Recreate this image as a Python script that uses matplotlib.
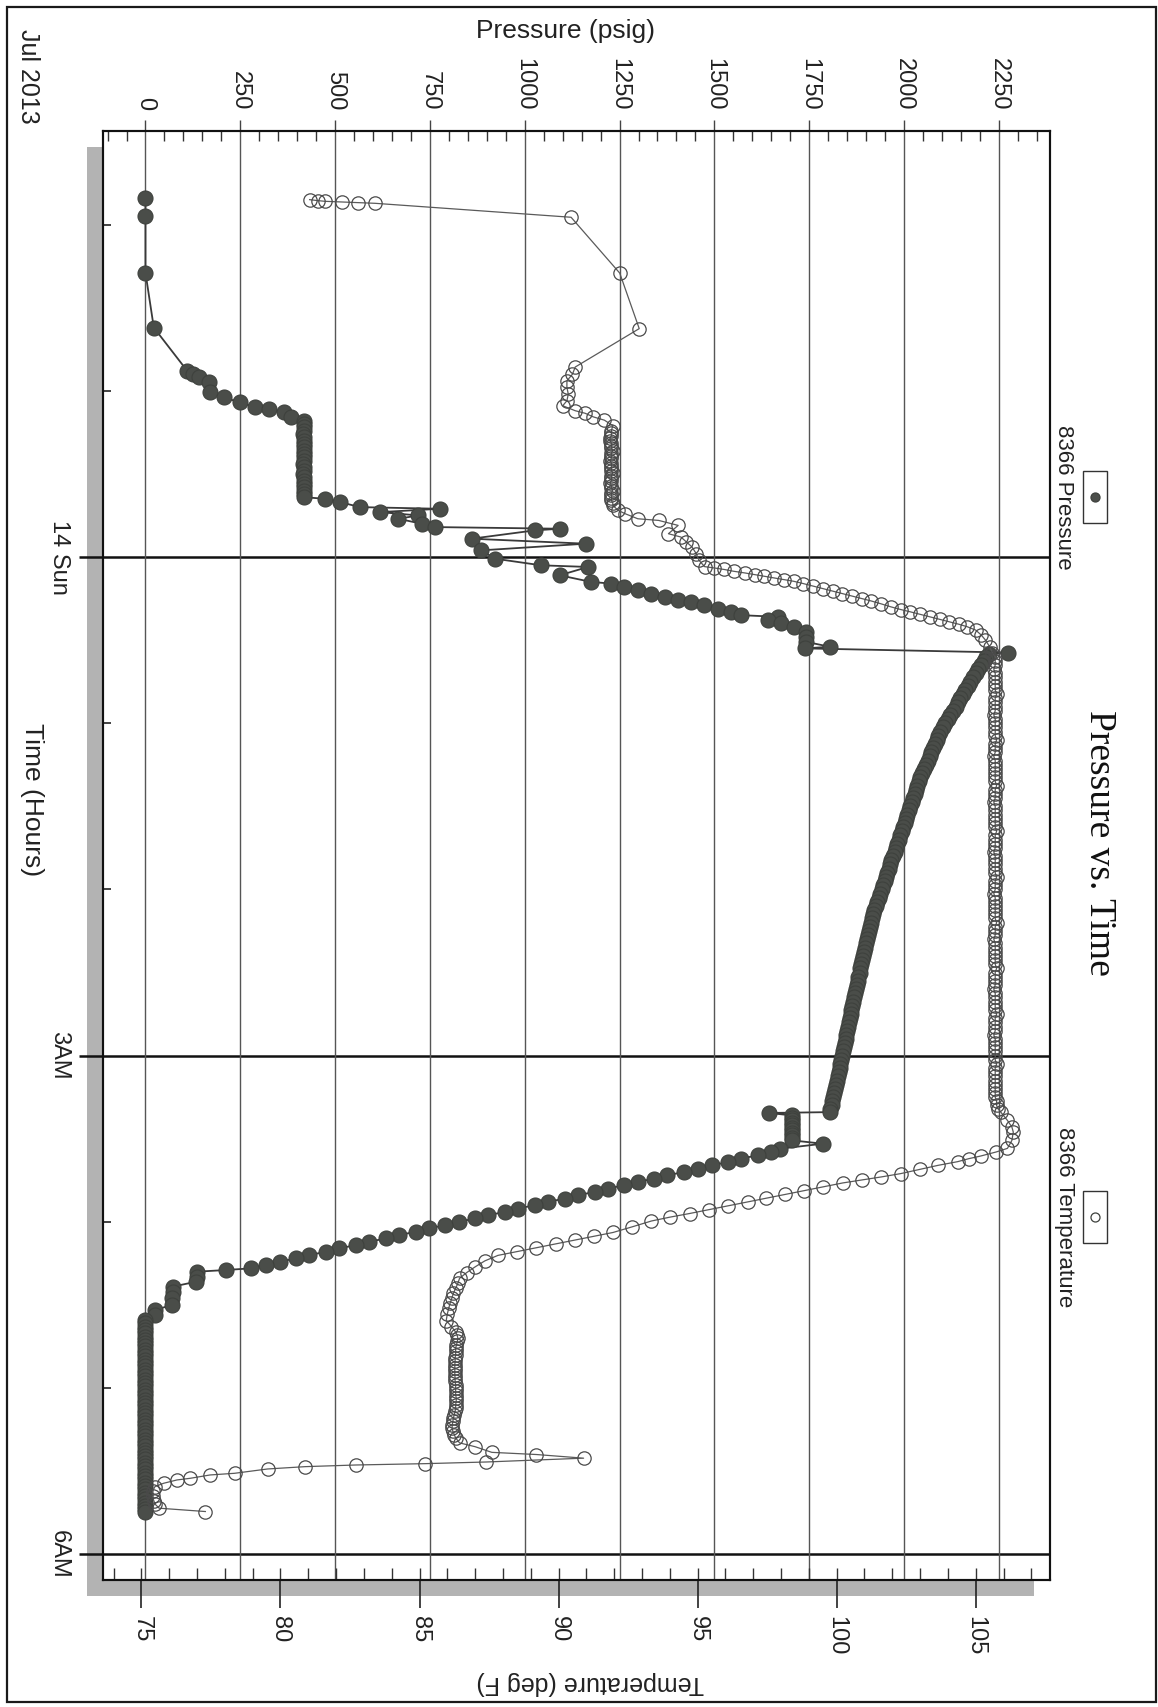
import matplotlib
matplotlib.use("Agg")
import matplotlib.pyplot as plt
from matplotlib.patches import Rectangle
from matplotlib.lines import Line2D
from matplotlib.ticker import FixedLocator, MultipleLocator

# ---- data, time in hours relative to midnight (Jul 14 2013) ----
# pressure (psig) in segments
early_hours = [-2.16, -2.05, -1.71, -1.38, -1.12, -1.10, -1.08, -1.05, -0.99, -0.96, -0.93, -0.90,
               -0.89, -0.87, -0.84]
early_psig = [0, 0, 0, 22, 110, 125, 140, 167, 171, 206, 250, 290,
              325, 364, 385]

hold_hours = [-0.82, -0.80, -0.78, -0.76, -0.74, -0.72, -0.70, -0.68, -0.66, -0.64, -0.62, -0.60,
              -0.58, -0.56, -0.54, -0.52, -0.50, -0.48, -0.46, -0.44, -0.42, -0.40, -0.38, -0.36]
hold_psig = [418, 417, 417, 417, 416, 417, 417, 418, 417, 417, 418, 417,
             417, 416, 417, 417, 416, 417, 417, 418, 418, 417, 417, 417]

ramp_hours = [-0.35, -0.33, -0.30, -0.29, -0.27, -0.25, -0.23, -0.20, -0.18, -0.17, -0.16, -0.11,
              -0.08, -0.04, 0.01, 0.05, 0.06, 0.11, 0.15, 0.16,
              0.18, 0.20, 0.22, 0.24, 0.26, 0.27, 0.29, 0.31, 0.33, 0.35, 0.36, 0.38, 0.40, 0.42,
              0.45, 0.48, 0.51, 0.54, 0.55, 0.575, 0.585]
ramp_psig = [474, 513, 566, 776, 618, 719, 667, 728, 763, 1092, 1026, 860,
             1161, 886, 921, 1043, 1167, 1092, 1175, 1228,
             1263, 1298, 1333, 1369, 1404, 1439, 1474, 1509, 1544, 1570, 1667, 1641, 1676, 1711,
             1741, 1741, 1741, 1804, 1740, 2274, 2223]

# soak period, both sensors logged at the same times
soak_hours = [
    0.600, 0.625, 0.650, 0.675, 0.700, 0.725, 0.750, 0.775,
    0.800, 0.825, 0.850, 0.875, 0.900, 0.925, 0.950, 0.975,
    1.000, 1.025, 1.050, 1.075, 1.100, 1.125, 1.150, 1.175,
    1.200, 1.225, 1.250, 1.275, 1.300, 1.325, 1.350, 1.375,
    1.400, 1.425, 1.450, 1.475, 1.500, 1.525, 1.550, 1.575,
    1.600, 1.625, 1.650, 1.675, 1.700, 1.725, 1.750, 1.775,
    1.800, 1.825, 1.850, 1.875, 1.900, 1.925, 1.950, 1.975,
    2.000, 2.025, 2.050, 2.075, 2.100, 2.125, 2.150, 2.175,
    2.200, 2.225, 2.250, 2.275, 2.300, 2.325, 2.350, 2.375,
    2.400, 2.425, 2.450, 2.475, 2.500, 2.525, 2.550, 2.575,
    2.600, 2.625, 2.650, 2.675, 2.700, 2.725, 2.750, 2.775,
    2.800, 2.825, 2.850, 2.875, 2.900, 2.925, 2.950, 2.975,
    3.000, 3.025, 3.050, 3.075, 3.100, 3.125, 3.150, 3.175,
    3.200, 3.225, 3.250, 3.275, 3.300, 3.320, 3.340,
]
soak_psig = [
    2217, 2210, 2203, 2196, 2189, 2182, 2175, 2168,
    2162, 2155, 2149, 2142, 2136, 2129, 2122, 2115,
    2109, 2102, 2096, 2091, 2086, 2081, 2076, 2072,
    2068, 2062, 2057, 2052, 2048, 2043, 2039, 2035,
    2032, 2028, 2024, 2020, 2017, 2013, 2009, 2005,
    2002, 1998, 1994, 1990, 1986, 1982, 1979, 1975,
    1971, 1967, 1964, 1960, 1956, 1952, 1949, 1945,
    1941, 1937, 1934, 1930, 1926, 1922, 1919, 1916,
    1914, 1911, 1909, 1906, 1903, 1900, 1898, 1895,
    1892, 1890, 1887, 1885, 1883, 1880, 1878, 1875,
    1873, 1870, 1868, 1866, 1864, 1861, 1859, 1857,
    1855, 1853, 1851, 1848, 1846, 1844, 1842, 1839,
    1837, 1834, 1832, 1830, 1828, 1825, 1823, 1821,
    1819, 1816, 1814, 1811, 1809, 1806, 1804,
]

bleed_hours = [3.345, 3.360, 3.375, 3.390, 3.405, 3.420, 3.435, 3.450, 3.465, 3.480, 3.495, 3.510,
               3.53, 3.56,
               3.58, 3.60, 3.62, 3.64, 3.66, 3.68, 3.70, 3.72, 3.74, 3.76, 3.78, 3.80,
               3.82, 3.84, 3.86, 3.88, 3.90, 3.92, 3.94, 3.96, 3.98, 4.00, 4.02, 4.04,
               4.06, 4.08, 4.10, 4.12, 4.14, 4.16, 4.18, 4.20, 4.22, 4.24, 4.26, 4.28,
               4.29, 4.30, 4.33, 4.36, 4.39, 4.42, 4.46, 4.50, 4.53, 4.56]
bleed_psig = [1644, 1705, 1705, 1705, 1706, 1705, 1705, 1704, 1705, 1705, 1706, 1705,
              1786, 1674,
              1650, 1614, 1570, 1536, 1494, 1458, 1420, 1376, 1341, 1298, 1262, 1219,
              1184, 1140, 1105, 1062, 1026, 983, 948, 904, 869, 826, 790, 747,
              712, 668, 633, 590, 554, 511, 476, 432, 397, 354, 318, 277,
              212, 136, 136, 134, 72, 72, 70, 70, 26, 24]

empty_hours = [4.59, 4.61, 4.63, 4.65, 4.67, 4.69, 4.71, 4.73, 4.75, 4.77,
               4.79, 4.81, 4.83, 4.85, 4.87, 4.89, 4.91, 4.93, 4.95, 4.97,
               4.99, 5.01, 5.03, 5.05, 5.07, 5.09, 5.11, 5.13, 5.15, 5.17,
               5.19, 5.21, 5.23, 5.25, 5.27, 5.29, 5.31, 5.33, 5.35, 5.37,
               5.39, 5.41, 5.43, 5.45, 5.47, 5.49, 5.51, 5.53, 5.55, 5.57,
               5.59, 5.61, 5.63, 5.65, 5.67, 5.69, 5.71, 5.73, 5.745]
empty_psig = [0, 0, 0, 0, 0, 0, 0, 0, 0, 0,
              0, 0, 0, 0, 0, 0, 0, 0, 0, 0,
              0, 0, 0, 0, 0, 0, 0, 0, 0, 0,
              0, 0, 0, 0, 0, 0, 0, 0, 0, 0,
              0, 0, 0, 0, 0, 0, 0, 0, 0, 0,
              0, 0, 0, 0, 0, 0, 0, 0, 0]

# temperature (deg F)
t_early_hours = [-2.150, -2.144, -2.140, -2.136, -2.132, -2.128, -2.044, -1.708, -1.374, -1.143, -1.10,
                 -1.06, -1.02, -0.98, -0.94, -0.91, -0.88, -0.865, -0.843, -0.823, -0.79,
                 -0.760, -0.745, -0.730, -0.715, -0.700, -0.685, -0.670, -0.655, -0.640, -0.625,
                 -0.610, -0.595, -0.580, -0.565, -0.550, -0.535, -0.520, -0.505, -0.490, -0.475,
                 -0.460, -0.445, -0.430, -0.415, -0.400, -0.385, -0.370, -0.355, -0.340, -0.325, -0.310]
t_early_degf = [81.05, 81.35, 81.6, 82.2, 82.8, 83.4, 90.45, 92.2, 92.9, 90.6, 90.5,
                90.3, 90.3, 90.35, 90.3, 90.15, 90.6, 90.95, 91.25, 91.65, 91.95,
                91.9, 91.9, 91.9, 91.85, 91.85, 91.9, 91.9, 91.9, 91.95, 91.9,
                91.9, 91.9, 91.85, 91.9, 91.9, 91.9, 91.9, 91.95, 91.9, 91.9,
                91.9, 91.85, 91.9, 91.9, 91.95, 91.9, 91.9, 91.9, 91.9, 91.95, 91.95]

t_rise_hours = [-0.28, -0.26, -0.23, -0.22, -0.19, -0.14, -0.12, -0.09, -0.06, -0.02, 0.02, 0.058,
                0.066, 0.075, 0.086, 0.096, 0.106, 0.116, 0.126, 0.136, 0.146, 0.160, 0.175, 0.190,
                0.205, 0.220, 0.235, 0.250, 0.265, 0.282, 0.300, 0.316, 0.330, 0.345, 0.360, 0.375,
                0.390, 0.405, 0.420, 0.440, 0.470, 0.500, 0.540, 0.577]
t_rise_degf = [92.15, 92.4, 92.85, 93.6, 94.3, 93.95, 94.4, 94.6, 94.8, 94.95, 95.05, 95.25,
               95.6, 95.95, 96.3, 96.7, 97.05, 97.4, 97.75, 98.1, 98.45, 98.8, 99.15, 99.5,
               99.85, 100.2, 100.55, 100.9, 101.25, 101.6, 101.95, 102.3, 102.65, 103.0, 103.35, 103.7,
               104.05, 104.4, 104.7, 105.0, 105.2, 105.35, 105.5, 105.6]

soak_degf = [
    105.7, 105.7, 105.7, 105.65, 105.7, 105.7, 105.7, 105.7,
    105.7, 105.75, 105.7, 105.7, 105.7, 105.7, 105.65, 105.7,
    105.7, 105.7, 105.7, 105.7, 105.75, 105.7, 105.7, 105.7,
    105.65, 105.7, 105.7, 105.7, 105.7, 105.7, 105.7, 105.75,
    105.7, 105.7, 105.7, 105.65, 105.7, 105.7, 105.7, 105.7,
    105.7, 105.7, 105.75, 105.7, 105.7, 105.7, 105.7, 105.65,
    105.7, 105.7, 105.7, 105.7, 105.7, 105.75, 105.7, 105.7,
    105.7, 105.65, 105.7, 105.7, 105.7, 105.7, 105.7, 105.7,
    105.75, 105.7, 105.7, 105.7, 105.65, 105.7, 105.7, 105.7,
    105.7, 105.7, 105.7, 105.75, 105.7, 105.7, 105.7, 105.7,
    105.65, 105.7, 105.7, 105.7, 105.7, 105.7, 105.75, 105.7,
    105.7, 105.7, 105.7, 105.65, 105.7, 105.7, 105.7, 105.7,
    105.7, 105.7, 105.75, 105.7, 105.7, 105.7, 105.7, 105.7,
    105.7, 105.7, 105.7, 105.75, 105.75, 105.8, 105.9,
]

t_fall_hours = [3.39, 3.43, 3.46, 3.51, 3.558, 3.58, 3.604, 3.62, 3.638, 3.66, 3.685, 3.71,
                3.730, 3.748, 3.766, 3.79, 3.812, 3.835, 3.857, 3.88, 3.903, 3.926, 3.950, 3.972,
                3.995, 4.03, 4.064, 4.087, 4.110, 4.133, 4.156, 4.18, 4.202, 4.235, 4.271, 4.305,
                4.340, 4.37, 4.40, 4.43, 4.456, 4.49, 4.52, 4.555, 4.594, 4.63, 4.663,
                4.68, 4.70, 4.72, 4.74, 4.76, 4.78, 4.80, 4.82, 4.84, 4.86, 4.88, 4.90,
                4.92, 4.94, 4.96, 4.98, 5.00, 5.02, 5.04, 5.06, 5.08, 5.10, 5.12, 5.14,
                5.16, 5.18, 5.20, 5.22, 5.24, 5.26, 5.28, 5.30, 5.33,
                5.353, 5.387, 5.40, 5.422, 5.445, 5.455, 5.463, 5.473, 5.487, 5.513, 5.523,
                5.543, 5.553, 5.573, 5.593, 5.62, 5.65, 5.68, 5.70, 5.723, 5.743]
t_fall_degf = [106.14, 106.3, 106.35, 106.3, 106.14, 105.73, 105.18, 104.75, 104.35, 103.65, 102.98, 102.3,
               101.6, 100.9, 100.22, 99.5, 98.84, 98.15, 97.47, 96.8, 96.09, 95.4, 94.71, 94.0,
               93.34, 92.65, 91.96, 91.27, 90.58, 89.9, 89.2, 88.5, 87.82, 87.35, 87.0, 86.7,
               86.44, 86.38, 86.3, 86.22, 86.17, 86.1, 86.05, 86.0, 85.96, 86.15, 86.3,
               86.35, 86.38, 86.36, 86.33, 86.3, 86.3, 86.3, 86.28, 86.28, 86.27, 86.27, 86.27,
               86.27, 86.28, 86.28, 86.3, 86.3, 86.3, 86.3, 86.32, 86.32, 86.3, 86.3, 86.28,
               86.25, 86.22, 86.2, 86.18, 86.17, 86.2, 86.25, 86.3, 86.44,
               87.0, 87.6, 89.2, 90.9, 87.4, 85.2, 82.72, 80.89, 79.54, 78.35, 77.47,
               76.76, 76.28, 75.8, 75.49, 75.4, 75.4, 75.45, 75.5, 75.64, 77.3]

pressure_hours = early_hours + hold_hours + ramp_hours + soak_hours + bleed_hours + empty_hours
pressure_psig = early_psig + hold_psig + ramp_psig + soak_psig + bleed_psig + empty_psig
temp_hours = t_early_hours + t_rise_hours + soak_hours + t_fall_hours
temp_degf = t_early_degf + t_rise_degf + soak_degf + t_fall_degf
assert len(pressure_hours) == len(pressure_psig), (len(pressure_hours), len(pressure_psig))
assert len(temp_hours) == len(temp_degf), (len(temp_hours), len(temp_degf))

pressure_ticks = [0, 250, 500, 750, 1000, 1250, 1500, 1750, 2000, 2250]
temp_ticks = [75, 80, 85, 90, 95, 100, 105]
time_ticks = [0, 3, 6]
time_labels = ["14 Sun", "3AM", "6AM"]
hour_ticks = [-2, -1, 1, 2, 4, 5]

W, H = 1158, 1707


def fx(x):
    return x / W


def fy(y):
    return 1 - y / H


plt.rcParams['font.family'] = ['Liberation Sans', 'DejaVu Sans']
ink = '#222222'

fig = plt.figure(figsize=(W / 100, H / 100), dpi=100)

left, right, top, bottom = 103, 1050, 131, 1580

# page border and drop shadow of the plot box
fig.add_artist(Rectangle((fx(7), fy(1702)), (1156 - 7) / W, (1702 - 7) / H,
                         transform=fig.transFigure, fill=False, lw=1.6, ec='#1a1a1a', zorder=5))
fig.add_artist(Rectangle((fx(left - 16), fy(bottom + 16)), (right - left) / W, (bottom - top) / H,
                         transform=fig.transFigure, fc='#b3b3b3', ec='none', zorder=-1))

ax = fig.add_axes([fx(left), fy(bottom), (right - left) / W, (bottom - top) / H])
axt = ax.twiny()

# pressure axis (top)
ax.set_xlim(-112, 2385)
ax.xaxis.set_major_locator(FixedLocator(pressure_ticks))
ax.xaxis.set_minor_locator(MultipleLocator(50))
ax.xaxis.tick_top()
ax.xaxis.set_label_position('top')
ax.tick_params(axis='x', which='major', top=True, bottom=False, labeltop=True, labelbottom=False,
               direction='out', length=8, width=1, color='#444444', pad=7,
               labelsize=17, labelrotation=-90, labelcolor=ink)
ax.tick_params(axis='x', which='minor', top=True, bottom=False, direction='in', length=7, width=1,
               color='#333333')
ax.grid(axis='x', which='major', color='#555555', lw=1.0, zorder=1)

# time axis (left, running downward)
ax.set_ylim(6.155, -2.563)
ax.yaxis.set_major_locator(FixedLocator(time_ticks))
ax.yaxis.set_minor_locator(FixedLocator(hour_ticks))
ax.set_yticklabels(time_labels, rotation=-90, va='center')
ax.tick_params(axis='y', which='major', direction='out', length=17, width=1.8, color='#111111',
               pad=7, labelsize=17, labelcolor=ink)
ax.tick_params(axis='y', which='minor', direction='in', length=6, width=1.2, color='#222222')
for h in time_ticks:
    ax.axhline(h, color='#111111', lw=1.8, zorder=1.5)

# temperature axis (bottom)
axt.set_xlim(73.62, 107.67)
axt.xaxis.set_major_locator(FixedLocator(temp_ticks))
axt.xaxis.set_minor_locator(MultipleLocator(1))
axt.xaxis.remove_overlapping_locs = False
axt.xaxis.tick_bottom()
axt.tick_params(axis='x', which='major', bottom=True, top=False, labelbottom=True, labeltop=False,
                direction='out', length=20, width=1.2, color='#222222', pad=6,
                labelsize=17, labelrotation=-90, labelcolor=ink)
axt.tick_params(axis='x', which='minor', bottom=True, top=False, direction='in', length=9, width=1,
                color='#333333')

for a in (ax, axt):
    for s in a.spines.values():
        s.set_linewidth(1.5)
        s.set_color('#111111')

# series
ax.plot(pressure_psig, pressure_hours, '-o', color='#3a3a3a', lw=1.3, ms=10.8,
        mfc='#4a4d49', mec='#3e413d', mew=0.8, zorder=3)
axt.plot(temp_degf, temp_hours, '-o', color='#5a5a5a', lw=0.9, ms=9.6,
         mfc='none', mec='#4a4a4a', mew=0.9, zorder=3)

# axis titles and labels (page is rotated 90 degrees)
fig.text(fx(566), fy(31), 'Pressure (psig)', fontsize=19, color=ink, ha='center', va='center')
fig.text(fx(590), fy(1683), 'Temperature (deg F)', fontsize=18, color=ink, ha='center', va='center',
         rotation=180)
fig.text(fx(32), fy(800), 'Time (Hours)', fontsize=19, color=ink, ha='center', va='center', rotation=-90)
fig.text(fx(28), fy(76), 'Jul 2013', fontsize=18, color=ink, ha='center', va='center', rotation=-90)
fig.text(fx(1099), fy(843), 'Pressure vs. Time', fontsize=27, color='#111111', ha='center', va='center',
         rotation=-90, family='Liberation Serif')

# legend entries
legend = [('8366 Pressure', 497, True), ('8366 Temperature', 1217, False)]
for label, yc, filled in legend:
    fig.text(fx(1064), fy(yc), label, fontsize=16, color=ink, ha='center', va='center', rotation=-90)
    fig.add_artist(Rectangle((fx(1083), fy(yc + 26)), 24 / W, 52 / H, transform=fig.transFigure,
                             fill=False, lw=1.0, ec='#333333'))
    fig.add_artist(Line2D([fx(1095)], [fy(yc)], transform=fig.transFigure, marker='o', ms=6.5,
                          mfc='#4c4f4b' if filled else 'none', mec='#3e413d', mew=0.9, ls='none'))

fig.savefig('out.png', dpi=100)
